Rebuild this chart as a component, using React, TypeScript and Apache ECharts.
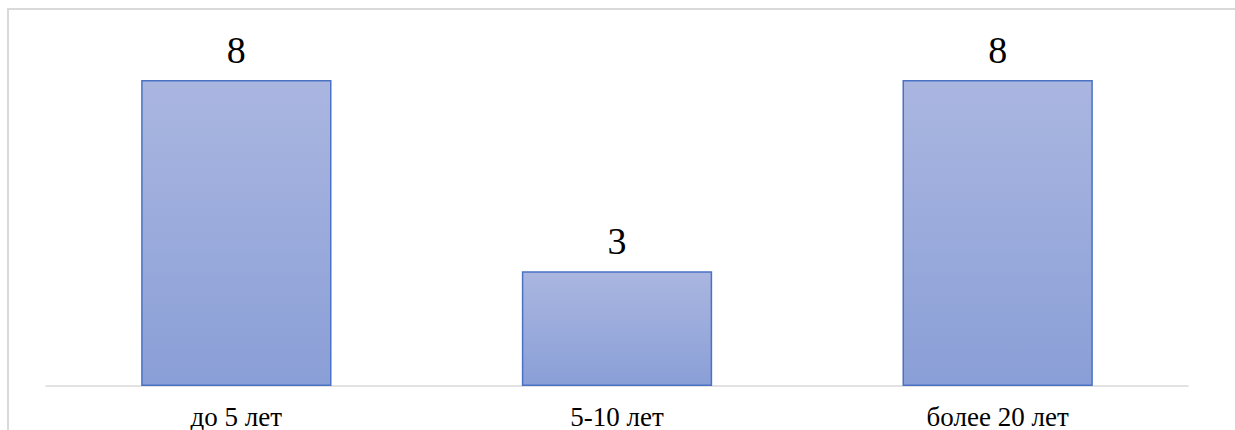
import React, { useEffect, useRef } from "react";
import * as echarts from "echarts";

const categories = ["до 5 лет", "5-10 лет", "более 20 лет"];
const values = [8, 3, 8];

const SERIF = "'Liberation Serif', 'Times New Roman', serif";

export default function App() {
  const ref = useRef<HTMLDivElement>(null);
  useEffect(() => {
    if (!ref.current) return;
    const chart = echarts.init(ref.current, undefined, { renderer: "svg" });
    chart.setOption({
      animation: false,
      backgroundColor: "#ffffff",
      textStyle: { fontFamily: SERIF },
      grid: {
        left: 46,
        right: 47,
        top: 80,
        bottom: 44,
        containLabel: false,
        outerBoundsMode: "none",
      },
      graphic: [
        {
          type: "rect",
          shape: { x: 8, y: 9, width: 1260, height: 460 },
          style: { fill: "none", stroke: "#d9d9d9", lineWidth: 2 },
          silent: true,
          z: -1,
        },
      ],
      xAxis: {
        type: "category",
        data: categories,
        axisLine: { show: true, lineStyle: { color: "#d9d9d9", width: 1.5 } },
        axisTick: { show: false },
        axisLabel: {
          color: "#000000",
          fontFamily: SERIF,
          fontSize: 27,
          margin: 17,
        },
      },
      yAxis: {
        type: "value",
        min: 0,
        max: 8,
        show: false,
        splitLine: { show: false },
      },
      series: [
        {
          type: "bar",
          data: values,
          barWidth: "50%",
          itemStyle: {
            color: new echarts.graphic.LinearGradient(0, 0, 0, 1, [
              { offset: 0, color: "#aab6e0" },
              { offset: 1, color: "#8a9fd7" },
            ]),
            borderColor: "#4a72c4",
            borderWidth: 1.5,
          },
          label: {
            show: true,
            position: "top",
            distance: 11,
            color: "#000000",
            fontFamily: SERIF,
            fontSize: 38,
          },
        },
      ],
    });
    return () => chart.dispose();
  }, []);
  return (
    <div
      ref={ref}
      style={{ position: "absolute", left: 0, top: 0, width: 1235, height: 430 }}
    />
  );
}
